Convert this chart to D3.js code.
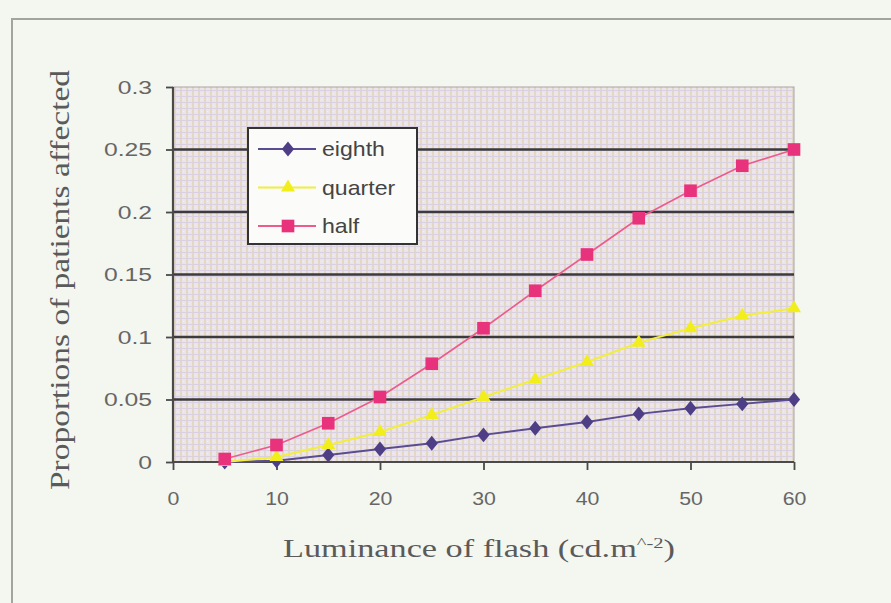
<!DOCTYPE html>
<html>
<head>
<meta charset="utf-8">
<script src="https://cdn.jsdelivr.net/npm/d3@7"></script>
<style>
  html, body { margin: 0; padding: 0; background: #f4f6f0; }
  svg { display: block; }
</style>
</head>
<body>
<svg id="chart" width="891" height="603"></svg>
<script>
// ---- data ----
const luminance = [5, 10, 15, 20, 25, 30, 35, 40, 45, 50, 55, 60];
const eighth  = [0, 0.001, 0.0056, 0.0104, 0.015, 0.0217, 0.027, 0.032, 0.0385, 0.043, 0.0465, 0.05];
const quarter = [0, 0.004, 0.0136, 0.024, 0.0377, 0.052, 0.066, 0.080, 0.0955, 0.107, 0.117, 0.123];
const half    = [0.0024, 0.0136, 0.031, 0.052, 0.0786, 0.107, 0.137, 0.166, 0.195, 0.217, 0.237, 0.25];
const seriesNames = ["eighth", "quarter", "half"];
const xTicks = [0, 10, 20, 30, 40, 50, 60];
const xTickLabels = ["0", "10", "20", "30", "40", "50", "60"];
const yTicks = [0, 0.05, 0.1, 0.15, 0.2, 0.25, 0.3];
const yTickLabels = ["0", "0.05", "0.1", "0.15", "0.2", "0.25", "0.3"];
const xTitle = "Luminance of flash (cd.m";
const xTitleSup = "^-2";
const yTitle = "Proportions of patients affected";

// ---- layout ----
const svg = d3.select("#chart");
const L = 173, R = 794, T = 87, B = 462;
const x = d3.scaleLinear().domain([0, 60]).range([L, R]);
const y = d3.scaleLinear().domain([0, 0.3]).range([B, T]);

// outer frame
svg.append("path")
  .attr("d", "M12,603 L12,19 L891,19")
  .attr("fill", "none").attr("stroke", "#a2a59f").attr("stroke-width", 2);

// plot-area pattern
const defs = svg.append("defs");
const pat = defs.append("pattern").attr("id", "bg").attr("patternUnits", "userSpaceOnUse")
  .attr("width", 6).attr("height", 6);
pat.append("rect").attr("width", 6).attr("height", 6).attr("fill", "#ebe5ea");
pat.append("rect").attr("x", 0).attr("width", 2).attr("height", 6).attr("fill", "#e4d8c0");
pat.append("rect").attr("y", 0).attr("width", 6).attr("height", 1).attr("fill", "#d9d0e2");
pat.append("rect").attr("x", 3).attr("y", 3).attr("width", 1).attr("height", 1).attr("fill", "#f3eef2");

svg.append("rect").attr("x", L).attr("y", T).attr("width", R - L).attr("height", B - T)
  .attr("fill", "url(#bg)").attr("stroke", "#a8a4a8").attr("stroke-width", 1);

// gridlines
svg.append("g").selectAll("line").data(yTicks.filter(d => d > 0 && d < 0.3)).join("line")
  .attr("x1", L).attr("x2", R).attr("y1", d => y(d)).attr("y2", d => y(d))
  .attr("stroke", "#3b3a3c").attr("stroke-width", 2.6);

// axes
const yAxis = svg.append("g").attr("transform", `translate(${L},0)`)
  .call(d3.axisLeft(y).tickValues(yTicks).tickFormat((d, i) => yTickLabels[i]).tickSize(7).tickPadding(14));
const xAxis = svg.append("g").attr("transform", `translate(0,${B})`)
  .call(d3.axisBottom(x).tickValues(xTicks).tickFormat((d, i) => xTickLabels[i]).tickSize(8).tickPadding(22));
[yAxis, xAxis].forEach(g => {
  g.select(".domain").attr("stroke", "#4a4a4a").attr("stroke-width", 2.2);
  g.selectAll(".tick line").attr("stroke", "#4a4a4a").attr("stroke-width", 1.8);
  g.selectAll("text").attr("font-family", "Liberation Sans, Arial, sans-serif")
    .attr("font-size", 19).attr("fill", "#666");
});
yAxis.select(".domain").attr("d", `M0,${B}V${T}`);
xAxis.select(".domain").attr("d", `M${L},0H${R}`);
yAxis.selectAll("text").each(function() {
  const w = this.getComputedTextLength();
  d3.select(this).attr("textLength", w * 1.3).attr("lengthAdjust", "spacingAndGlyphs");
});
xAxis.selectAll("text").each(function() {
  const w = this.getComputedTextLength();
  d3.select(this).attr("textLength", w * 1.12).attr("lengthAdjust", "spacingAndGlyphs");
});

// series
const series = [
  { name: seriesNames[0], vals: eighth,  line: "#5b4c92", fill: "#4d3e86", shape: d3.symbolDiamond, size: 120, lw: 2 },
  { name: seriesNames[1], vals: quarter, line: "#f2ee3a", fill: "#f2ee1c", shape: d3.symbolTriangle, size: 85, lw: 2 },
  { name: seriesNames[2], vals: half,    line: "#ee5a8c", fill: "#e8327c", shape: d3.symbolSquare, size: 160, lw: 1.6 }
];
const lineGen = d3.line().x(d => x(d[0])).y(d => y(d[1]));
const diamond = { draw(ctx, size) { const h = Math.sqrt(size) * 0.68, w = h * 0.82;
  ctx.moveTo(0, -h); ctx.lineTo(w, 0); ctx.lineTo(0, h); ctx.lineTo(-w, 0); ctx.closePath(); } };
series.forEach(s => {
  const pts = luminance.map((l, i) => [l, s.vals[i]]);
  svg.append("path").attr("d", lineGen(pts)).attr("fill", "none")
    .attr("stroke", s.line).attr("stroke-width", s.lw);
  const shape = s.shape === d3.symbolDiamond ? diamond : s.shape;
  svg.append("g").selectAll("path").data(pts).join("path")
    .attr("transform", d => `translate(${x(d[0])},${y(d[1])})`)
    .attr("d", d3.symbol(shape, s.size)).attr("fill", s.fill);
});

// legend
const lg = svg.append("g");
lg.append("rect").attr("x", 248).attr("y", 128).attr("width", 169).attr("height", 116)
  .attr("fill", "#fbfbf9").attr("stroke", "#333").attr("stroke-width", 2);
series.forEach((s, i) => {
  const cy = 149 + i * 38.5;
  lg.append("line").attr("x1", 258).attr("x2", 316).attr("y1", cy).attr("y2", cy)
    .attr("stroke", s.line).attr("stroke-width", 2);
  const shape = s.shape === d3.symbolDiamond ? diamond : s.shape;
  lg.append("path").attr("transform", `translate(288,${cy})`).attr("d", d3.symbol(shape, s.size)).attr("fill", s.fill);
  const t = lg.append("text").attr("x", 322).attr("y", cy + 7)
    .attr("font-family", "Liberation Sans, Arial, sans-serif").attr("font-size", 21)
    .attr("fill", "#444").text(s.name);
  const w = t.node().getComputedTextLength();
  t.attr("textLength", w * 1.1).attr("lengthAdjust", "spacingAndGlyphs");
});

// axis titles
const xt = svg.append("text").attr("x", 479).attr("y", 557).attr("text-anchor", "middle")
  .attr("font-family", "Liberation Serif, Times New Roman, serif").attr("font-size", 25)
  .attr("fill", "#5a5a5a").attr("textLength", 392).attr("lengthAdjust", "spacingAndGlyphs");
xt.append("tspan").text(xTitle);
xt.append("tspan").attr("font-size", 15).attr("dy", -9).text(xTitleSup);
xt.append("tspan").attr("dy", 9).text(")");

svg.append("text").attr("transform", "translate(69,280) rotate(-90)").attr("text-anchor", "middle")
  .attr("font-family", "Liberation Serif, Times New Roman, serif").attr("font-size", 27)
  .attr("fill", "#5a5a5a").attr("textLength", 420).attr("lengthAdjust", "spacingAndGlyphs")
  .text(yTitle);
</script>
</body>
</html>
